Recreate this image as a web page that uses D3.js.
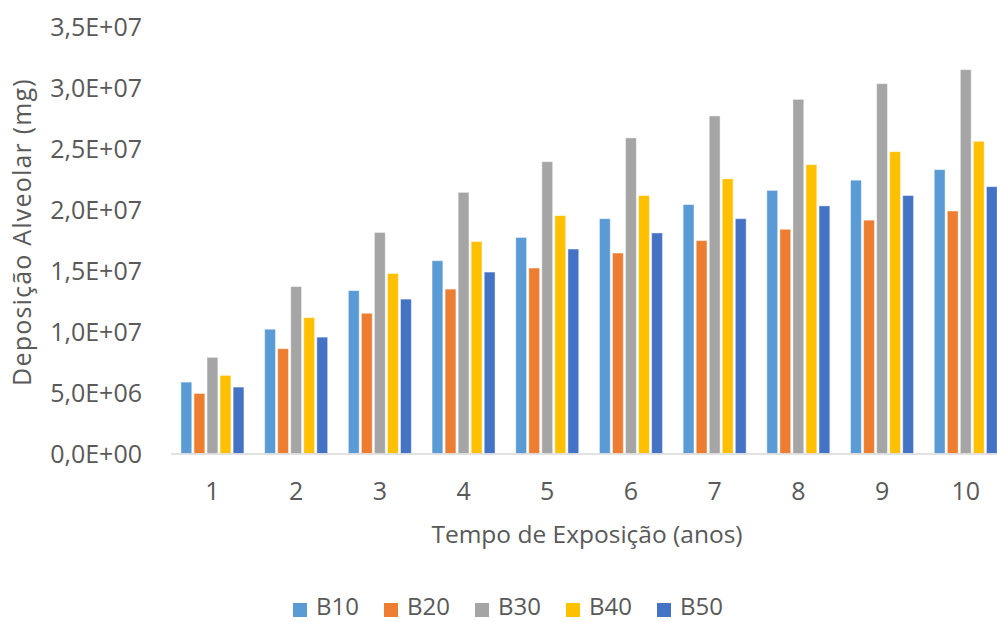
<!DOCTYPE html>
<html>
<head>
<meta charset="utf-8">
<script src="https://cdn.jsdelivr.net/npm/d3@7"></script>
<style>
  html, body { margin: 0; padding: 0; background: #fff; }
  svg { display: block; }
  text { font-family: "Open Sans", "DejaVu Sans", sans-serif; fill: #595959; }
</style>
</head>
<body>
<svg id="chart" width="997" height="622"></svg>
<script>
const categories = ["1","2","3","4","5","6","7","8","9","10"];
const seriesNames = ["B10","B20","B30","B40","B50"];
const colors = ["#5B9BD5","#ED7D31","#A5A5A5","#FFC000","#4472C4"];
const B10 = [5.86e6, 10.2e6, 13.37e6, 15.82e6, 17.73e6, 19.27e6, 20.43e6, 21.59e6, 22.43e6, 23.3e6];
const B20 = [4.93e6, 8.6e6, 11.51e6, 13.49e6, 15.22e6, 16.45e6, 17.47e6, 18.4e6, 19.15e6, 19.9e6];
const B30 = [7.89e6, 13.7e6, 18.14e6, 21.43e6, 23.95e6, 25.9e6, 27.7e6, 29.06e6, 30.35e6, 31.5e6];
const B40 = [6.41e6, 11.15e6, 14.77e6, 17.4e6, 19.52e6, 21.17e6, 22.54e6, 23.7e6, 24.77e6, 25.62e6];
const B50 = [5.45e6, 9.55e6, 12.67e6, 14.89e6, 16.78e6, 18.1e6, 19.27e6, 20.32e6, 21.17e6, 21.9e6];
const tickValues = [0, 5e6, 10e6, 15e6, 20e6, 25e6, 30e6, 35e6];
const tickLabels = ["0,0E+00","5,0E+06","1,0E+07","1,5E+07","2,0E+07","2,5E+07","3,0E+07","3,5E+07"];
const xTitle = "Tempo de Exposição (anos)";
const yTitle = "Deposição Alveolar (mg)";

const seriesValues = [B10, B20, B30, B40, B50];

const svg = d3.select("#chart");
const plotLeft = 170.6, plotRight = 1007.6, plotBottom = 453.5, plotTop = 27;

const x0 = d3.scaleBand().domain(categories).range([plotLeft, plotRight]).padding(0);
const groupGap = 20.7;
const x1 = d3.scaleBand().domain(seriesNames).range([groupGap/2, x0.bandwidth() - groupGap/2]).paddingInner(0.17);
const y = d3.scaleLinear().domain([0, 3.5e7]).range([plotBottom, plotTop]);

// bars
const groups = svg.append("g").selectAll("g")
  .data(categories)
  .join("g")
  .attr("transform", d => `translate(${x0(d)},0)`);

groups.selectAll("rect")
  .data((c, i) => seriesNames.map((s, j) => ({ s, j, v: seriesValues[j][i] })))
  .join("rect")
  .attr("x", d => x1(d.s))
  .attr("width", x1.bandwidth())
  .attr("y", d => y(d.v))
  .attr("height", d => y(0) - y(d.v))
  .attr("fill", d => colors[d.j])
  .attr("stroke", "rgba(255,255,255,0.45)")
  .attr("stroke-width", 1);

// x axis
const xAxis = d3.axisBottom(x0).tickSize(0).tickPadding(0);
const gx = svg.append("g").attr("transform", `translate(0,${plotBottom})`).call(xAxis);
gx.select(".domain").attr("stroke", "#d9d9d9").attr("stroke-width", 1.6);
gx.selectAll(".tick text")
  .attr("y", 46)
  .attr("dy", 0)
  .style("font-size", "25px")
  .style("fill", "#595959");

// y axis (labels only)
const yAxis = d3.axisLeft(y).tickValues(tickValues)
  .tickFormat((d, i) => tickLabels[i]).tickSize(0).tickPadding(0);
const gy = svg.append("g").attr("transform", `translate(142,0)`).call(yAxis);
gy.select(".domain").remove();
gy.selectAll(".tick text")
  .attr("x", 0)
  .attr("dy", "0.35em")
  .style("font-size", "25px")
  .style("fill", "#595959");

// axis titles
svg.append("text")
  .attr("x", 587)
  .attr("y", 543)
  .attr("text-anchor", "middle")
  .style("font-size", "24.5px")
  .text(xTitle);

svg.append("text")
  .attr("transform", "translate(31,232) rotate(-90)")
  .attr("text-anchor", "middle")
  .style("font-size", "25px")
  .style("letter-spacing", "1.2px")
  .text(yTitle);

// legend
const legendX = d3.scalePoint().domain(seriesNames).range([293, 657]);
const lg = svg.append("g").selectAll("g")
  .data(seriesNames)
  .join("g")
  .attr("transform", d => `translate(${legendX(d)},0)`);
lg.append("rect")
  .attr("x", 0).attr("y", 603)
  .attr("width", 14).attr("height", 14)
  .attr("fill", (d, i) => colors[i]);
lg.append("text")
  .attr("x", 23).attr("y", 615)
  .style("font-size", "24px")
  .text(d => d);
</script>
</body>
</html>
